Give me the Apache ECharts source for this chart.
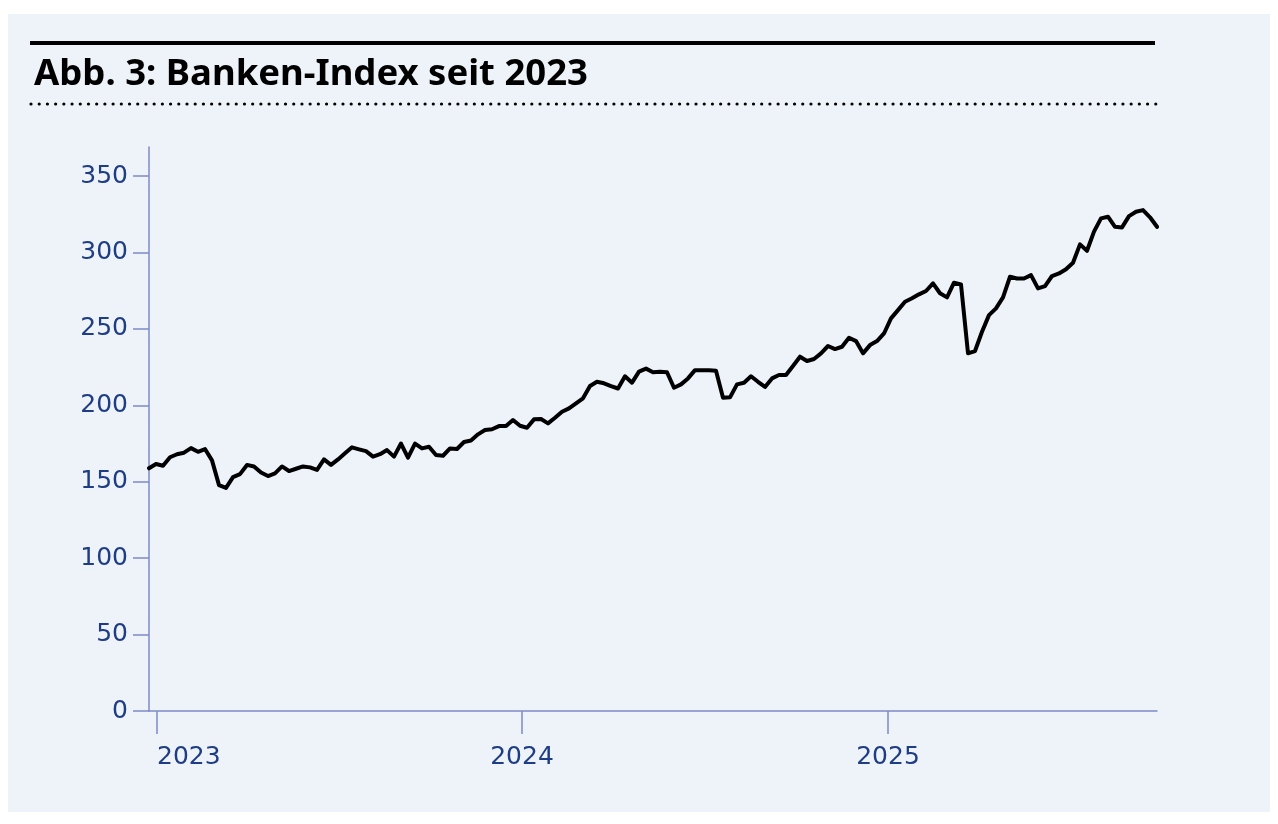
<!DOCTYPE html>
<html>
<head>
<meta charset="utf-8">
<script src="https://cdn.jsdelivr.net/npm/echarts@6/dist/echarts.min.js"></script>
<style>
html,body{margin:0;padding:0;background:#ffffff;}
#chart{width:1278px;height:824px;}
</style>
</head>
<body>
<div id="chart"></div>
<script>
// ---- data ----
const TITLE = 'Abb. 3: Banken-Index seit 2023';
const START_DATE = [2022, 11, 24];   // first weekly observation (y, m0, d)
const STEP_DAYS = 7;                  // weekly data
const indexValues = [
  158.8,161.6,160.5,166,168,169,172,169.6,171.4,164,
  147.8,146,153,155,161,160,156,153.7,155.5,160,
  157,158.5,160,159.4,157.7,164.6,161,164.6,168.6,172.5,
  171.2,170,166.4,168,170.7,166.4,175,165.7,175,171.8,
  172.9,167.5,167,171.8,171.4,176,177,181,183.8,184.3,
  186.4,186.4,190.4,186.6,185.3,190.8,191,188.2,191.9,195.8,
  198,201.3,204.6,212.6,215.4,214.4,212.6,211,219,214.8,
  222,224,221.6,222,221.6,211.5,213.7,217.6,223,223,
  223,222.6,205,205.2,213.7,214.8,219,215.4,212,217.6,
  219.8,219.8,225.7,231.8,229,230.3,234,238.8,236.8,238.3,
  244.2,242,234,239.4,242,247,256.9,262.3,267.8,270,
  272.6,274.8,279.8,273.3,270.6,280.2,279.1,234,235.5,248.1,
  259,263.4,270.6,284.1,283,283,285.2,276.5,278,284.6,
  286.3,289,293.3,305.3,301.1,313.6,322.3,323.4,316.8,316.4,
  323.8,326.6,327.7,323,316.8
];
const yearTicks = [2023, 2024, 2025];
const yTickLabels = [0, 50, 100, 150, 200, 250, 300, 350];

// ---- build ----
const DAY = 86400000;
const startTs = new Date(START_DATE[0], START_DATE[1], START_DATE[2]).getTime();
const seriesData = indexValues.map((v, i) => [startTs + i * STEP_DAYS * DAY, v]);
const endTs = seriesData[seriesData.length - 1][0];
const yearTs = yearTicks.map(y => new Date(y, 0, 1).getTime());

const axisColor = '#7f8bc6';
const labelColor = '#1f3d85';
const FONT = 'DejaVu Sans';

const chart = echarts.init(document.getElementById('chart'), null, {renderer: 'canvas'});
chart.setOption({
  backgroundColor: '#ffffff',
  animation: false,
  graphic: [
    {type: 'rect', shape: {x: 8, y: 14, width: 1262, height: 798}, style: {fill: '#eef3fa'}, z: -10},
    {type: 'rect', shape: {x: 30, y: 41, width: 1125, height: 4}, style: {fill: '#000000'}},
    {type: 'text', x: 34, y: 75, style: {text: TITLE, fill: '#000000', font: 'bold 36.5px "Noto Sans"', verticalAlign: 'middle', align: 'left'}},
    {type: 'line', shape: {x1: 31, y1: 104, x2: 1157, y2: 104}, style: {stroke: '#000000', lineWidth: 3.2, lineCap: 'round', lineDash: [0.01, 8.2]}}
  ],
  grid: {left: 149, right: 121, top: 147, bottom: 113, containLabel: false, outerBoundsMode: 'none'},
  xAxis: {
    type: 'value',
    min: startTs,
    max: endTs,
    axisLine: {show: true, lineStyle: {color: axisColor, width: 1.5}},
    axisTick: {show: true, length: 23, lineStyle: {color: axisColor, width: 1.5}, customValues: yearTs},
    axisLabel: {
      show: true, customValues: yearTs, color: labelColor, fontFamily: FONT, fontSize: 25, margin: 34,
      alignMinLabel: 'left',
      formatter: v => { const k = yearTs.indexOf(v); return k >= 0 ? String(yearTicks[k]) : ''; }
    },
    splitLine: {show: false}
  },
  yAxis: {
    type: 'value',
    min: 0,
    max: 369,
    interval: 50,
    axisLine: {show: true, lineStyle: {color: axisColor, width: 1.5}},
    axisTick: {show: true, length: 16, lineStyle: {color: axisColor, width: 1.5}, customValues: yTickLabels},
    axisLabel: {show: true, customValues: yTickLabels, color: labelColor, fontFamily: FONT, fontSize: 25, margin: 21,
      formatter: v => String(v)},
    splitLine: {show: false}
  },
  series: [{
    type: 'line',
    data: seriesData,
    showSymbol: false,
    symbol: 'none',
    lineStyle: {color: '#000000', width: 4, join: 'round', cap: 'round'},
    smooth: false
  }]
});
</script>
</body>
</html>
